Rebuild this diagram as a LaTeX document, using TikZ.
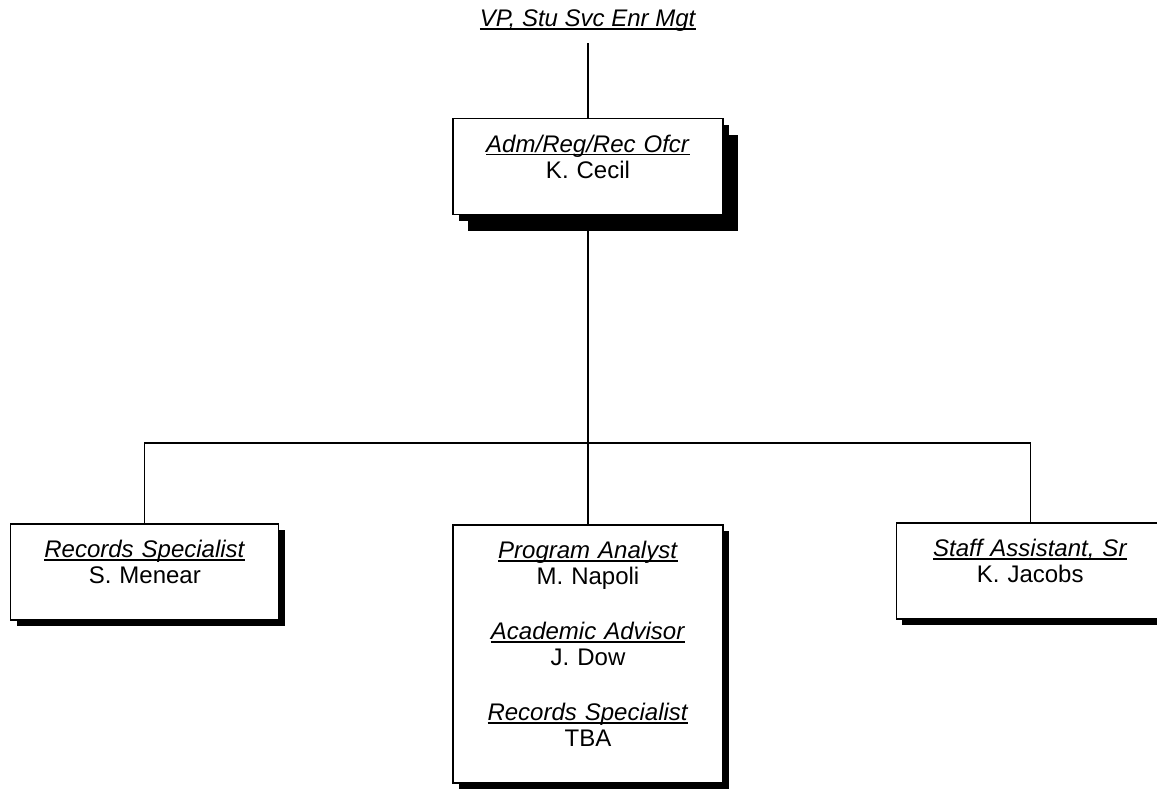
\documentclass[tikz,border=0pt]{standalone}
\usepackage{fontspec}
\setmainfont{Liberation Sans}
\usetikzlibrary{positioning,shadows}
\newcommand{\postitle}[1]{\leavevmode\begingroup\setbox0\hbox{\textit{#1}}\rlap{\rule[-2.6pt]{\wd0}{1.4pt}}\box0\endgroup}

\begin{document}
\begin{tikzpicture}[
  x=1pt,y=-1pt,
  every node/.style={font=\fontsize{24pt}{26pt}\selectfont},
  head/.style={inner xsep=0pt,inner ysep=11pt,anchor=base},
  box/.style={draw,line width=1.2pt,fill=white,inner xsep=0pt,inner ysep=0pt,
    text width=270pt,align=center,text height=34pt,text depth=62pt,
    drop shadow={shadow xshift=6pt,shadow yshift=-6pt,fill=black,opacity=1}},
  bigshadow/.style={drop shadow={shadow xshift=15pt,shadow yshift=-16pt,fill=black,opacity=1}},
  link/.style={line width=1.2pt}
]
\useasboundingbox (0,0) rectangle (1157,794);
\node[head] (vp) at (588,27) {\postitle{VP, Stu Svc Enr Mgt}};
\node[box,bigshadow,below=75pt of vp] (ofcr) {\postitle{Adm/Reg/Rec Ofcr}\\K. Cecil};
\node[box,text depth=224pt,below=309pt of ofcr] (prog)
  {\postitle{Program Analyst}\\M. Napoli\\[29pt]\postitle{Academic Advisor}\\J. Dow\\[29pt]\postitle{Records Specialist}\\TBA};
\node[box,text width=268pt,left=173pt of prog.north west,anchor=north east,yshift=1pt] (rec)
  {\postitle{Records Specialist}\\S. Menear};
\node[box,text width=268pt,right=172pt of prog.north east,anchor=north west,yshift=2pt] (staff)
  {\postitle{Staff Assistant, Sr}\\K. Jacobs};
\coordinate (bus) at (588,443);
\draw[link] (vp.south) -- (ofcr.north);
\draw[link] (ofcr.south) -- (bus) -- (prog.north);
\draw[link] (bus) -| (rec.north);
\draw[link] (bus) -| (staff.north);
\end{tikzpicture}
\end{document}
